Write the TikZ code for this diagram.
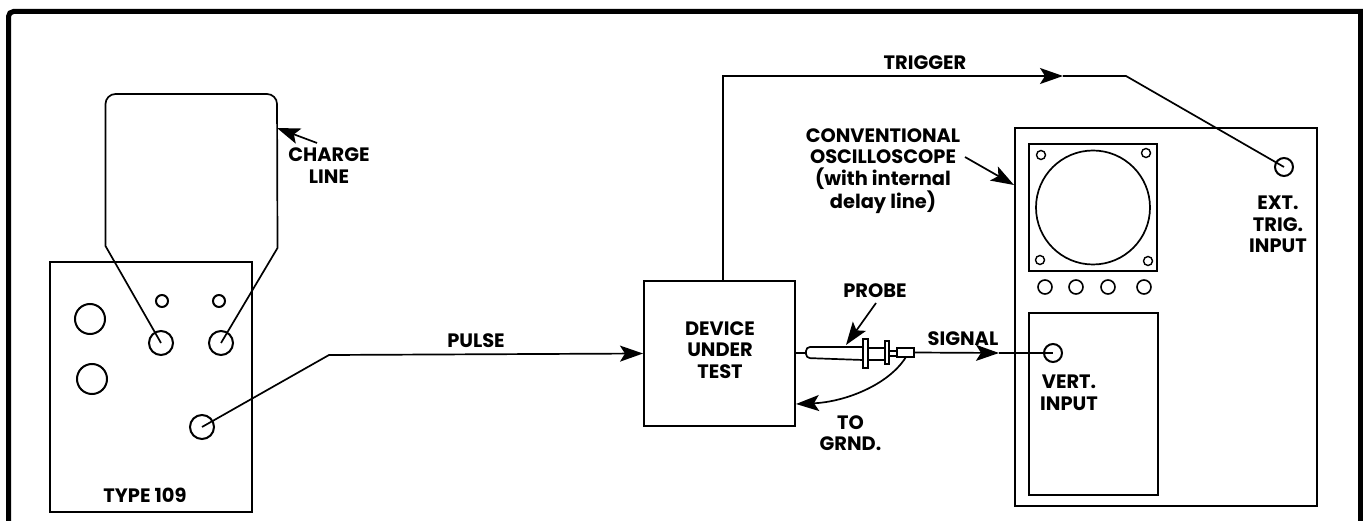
\documentclass[tikz,border=0pt]{standalone}
\usepackage{fontspec}
\setmainfont{Poppins}
\usetikzlibrary{arrows.meta}
\tikzset{
  frameline/.style={line width=5pt},
  panel/.style={draw, line width=2pt, inner sep=0pt},
  wire/.style={line width=1.7pt},
  sig/.style={wire, -{Stealth[length=23pt, width=16pt, inset=5pt]}},
  jack/.style={circle, draw, line width=2pt, inner sep=0pt, minimum size=24pt},
  lbl/.style={font=\bfseries\fontsize{19.4}{21.5}\selectfont, align=center, inner sep=0pt},
}
\begin{document}
\begin{tikzpicture}[x=1pt, y=-1pt]
    \useasboundingbox (0, 0) rectangle (1363, 521) ;
    \draw[frameline] (8.5, 521) [rounded corners=5pt] -- (8.5, 11.5) [sharp corners] -- (1360.5, 11.5) -- (1360.5, 521) ;
    %--- Type 109
    \node[panel, minimum width=202pt, minimum height=250pt] (pulser) at (151, 387) {} ;
    \node[jack, minimum size=30pt] (knobA) at (90, 319) {} ;
    \node[jack, minimum size=30pt] (knobB) at (92, 379) {} ;
    \node[jack, minimum size=12pt] (lampA) at (162, 301) {} ;
    \node[jack, minimum size=12pt] (lampB) at (219, 301) {} ;
    \node[jack] (chargeA) at (161, 343) {} ;
    \node[jack] (chargeB) at (221, 343) {} ;
    \node[jack] (pulseout) at (202, 427) {} ;
    \node[lbl] (typelbl) at (145, 495) {TYPE 109} ;
    %--- Charge line
    \coordinate (lineA) at (105.5, 246) ;
    \coordinate (lineB) at (277.5, 248) ;
    \coordinate (lineC) at (277, 128) ;
    \draw[wire] (chargeA.center) -- (lineA) [rounded corners=10pt] -- (105.5, 94) -- (277, 94) [sharp corners] -- (lineB) -- (chargeB.center) ;
    \node[lbl] (chargelbl) at (329, 165.5) {CHARGE\\LINE} ;
    \coordinate (chargetail) at (317, 143) ;
    \draw[sig] (chargetail) -- (lineC) ;
    %--- Device
    \node[panel, minimum width=151pt, minimum height=145pt] (dut) at (719.5, 353.5) {} ;
    \node[lbl] (dutlbl) at (720, 350) {DEVICE\\UNDER\\TEST} ;
    \coordinate (pulsebend) at (329, 355) ;
    \draw[sig] (pulseout.center) -- (pulsebend) -- (dut.west) ;
    \node[lbl] (pulselbl) at (476, 341) {PULSE} ;
    %--- Oscilloscope
    \node[panel, minimum width=302pt, minimum height=378pt] (scope) at (1165.5, 317) {} ;
    \node[panel, minimum width=128pt, minimum height=127pt] (screen) at (1093, 207.5) {} ;
    \node[circle, draw, wire, inner sep=0pt, minimum size=114pt] (tube) at (screen.center) {} ;
    \foreach \nam/\xx/\yy in {holeA/1041/155, holeB/1146/153, holeC/1040/260, holeD/1148/261}
      \node[jack, line width=1.4pt, minimum size=9pt] (\nam) at (\xx, \yy) {} ;
    \foreach \nam/\xx in {ctrlA/1045, ctrlB/1076, ctrlC/1108, ctrlD/1144}
      \node[jack, line width=1.6pt, minimum size=14pt] (\nam) at (\xx, 287) {} ;
    \node[panel, minimum width=129pt, minimum height=182pt] (vertpanel) at (1093.5, 404) {} ;
    \node[jack, minimum size=18pt] (vert) at (1053, 353) {} ;
    \node[jack, minimum size=18pt] (ext) at (1284, 167) {} ;
    \node[lbl] (vertlbl) at (1069, 393) {VERT.\\INPUT} ;
    \node[lbl] (extlbl) at (1278, 224.5) {EXT.\\TRIG.\\INPUT} ;
    \node[lbl] (scopelbl) at (883, 171) {CONVENTIONAL\\OSCILLOSCOPE\\(with internal\\delay line)} ;
    \coordinate (scopetail) at (965, 157) ;
    \coordinate (scopetip) at (1014, 185) ;
    \draw[sig] (scopetail) -- (scopetip) ;
    %--- Trigger
    \coordinate (trigstart) at (723, 281) ;
    \coordinate (trighead) at (1063, 76) ;
    \coordinate (trigbend) at (1126, 76) ;
    \draw[sig] (trigstart) |- (trighead) ;
    \draw[wire] (trighead) -- (trigbend) -- (ext.center) ;
    \node[lbl] (triglbl) at (925, 63) {TRIGGER} ;
    %--- Probe
    \node[panel, line width=1.5pt, minimum width=17pt, minimum height=9pt] (tipbox) at (905.5, 352.5) {} ;
    \coordinate (probeend) at (806, 353) ;
    \draw[wire] (dut.east |- probeend) -- (probeend) ;
    \draw[wire, rounded corners=4pt] (863, 347) -- (806, 347) -- (806, 358) -- (863, 360) ;
    \node[panel, line width=1.5pt, minimum width=5pt, minimum height=29pt] (flangeA) at (865.5, 353.5) {} ;
    \draw[wire] (flangeA.east |- 0, 348) -- (885, 348) (flangeA.east |- 0, 360) -- (885, 360) ;
    \node[panel, line width=1.5pt, minimum width=4pt, minimum height=23pt] (flangeB) at (887, 352.5) {} ;
    \draw[wire] (889, 351) -- (897, 351) (889, 356) -- (897, 356) ;
    \coordinate (sighead) at (999, 353) ;
    \draw[sig] (tipbox.east) -- (sighead) ;
    \draw[wire] (sighead) -- (vert.center) ;
    \node[lbl] (siglbl) at (963, 339) {SIGNAL} ;
    \coordinate (probetail) at (876, 303) ;
    \coordinate (probetip) at (846, 345) ;
    \draw[sig] (probetail) -- (probetip) ;
    \node[lbl] (probelbl) at (875, 291) {PROBE} ;
    \coordinate (grndtip) at (796, 404) ;
    \draw[sig] (tipbox.south) .. controls (888, 385) and (845, 402) .. (grndtip) ;
    \node[lbl] (grndlbl) at (850.5, 433) {TO\\GRND.} ;
\end{tikzpicture}
\end{document}
